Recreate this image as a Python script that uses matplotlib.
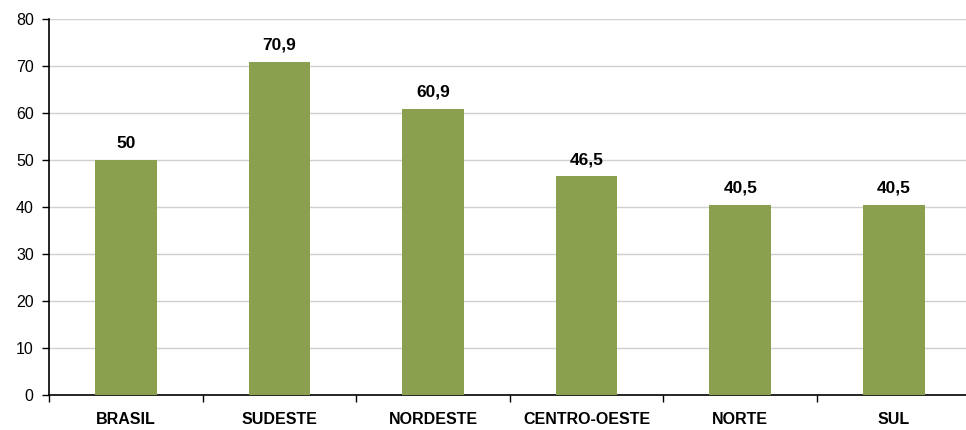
import matplotlib
matplotlib.use("Agg")
import matplotlib.pyplot as plt
import numpy as np

categories = ["BRASIL", "SUDESTE", "NORDESTE", "CENTRO-OESTE", "NORTE", "SUL"]
values = [50, 70.9, 60.9, 46.5, 40.5, 40.5]
value_labels = ["50", "70,9", "60,9", "46,5", "40,5", "40,5"]
yticks = [0, 10, 20, 30, 40, 50, 60, 70, 80]

plt.rcParams['font.family'] = ['Liberation Sans', 'DejaVu Sans']

fig = plt.figure(figsize=(9.66, 4.30), dpi=100)
ax = fig.add_axes([49/966, 1-395/430, 921.6/966, (395-19)/430])

x = np.arange(len(categories))
ax.bar(x, values, width=0.4, color="#8aa04e", zorder=3)
for xi, v, lab in zip(x, values, value_labels):
    ax.annotate(lab, (xi, v), xytext=(0, 6.5), textcoords="offset points",
                ha="center", va="bottom", fontsize=12.5, fontweight="bold", color="#000000")

ax.set_xlim(-0.5, len(categories) - 0.5)
ax.set_ylim(0, 80)
ax.set_yticks(yticks)
ax.set_yticklabels([str(t) for t in yticks], fontsize=11.5)
ax.yaxis.grid(True, color="#d0d0d0", linewidth=1, zorder=0)
ax.set_axisbelow(True)

ax.set_xticks(np.arange(-0.5, len(categories) + 0.5, 1))
ax.set_xticklabels([])
ax.set_xticks(x, minor=True)
ax.set_xticklabels(categories, minor=True, fontsize=11.5, fontweight="bold")
ax.tick_params(axis="x", which="minor", length=0, pad=12.5)
ax.tick_params(axis="x", which="major", length=5, width=1, direction="out")
ax.tick_params(axis="y", length=5, width=1, direction="out", pad=6)

for s in ["top", "right"]:
    ax.spines[s].set_visible(False)
ax.spines["left"].set_linewidth(1.2)
ax.spines["bottom"].set_linewidth(1.2)

fig.savefig("out.png", dpi=100)
